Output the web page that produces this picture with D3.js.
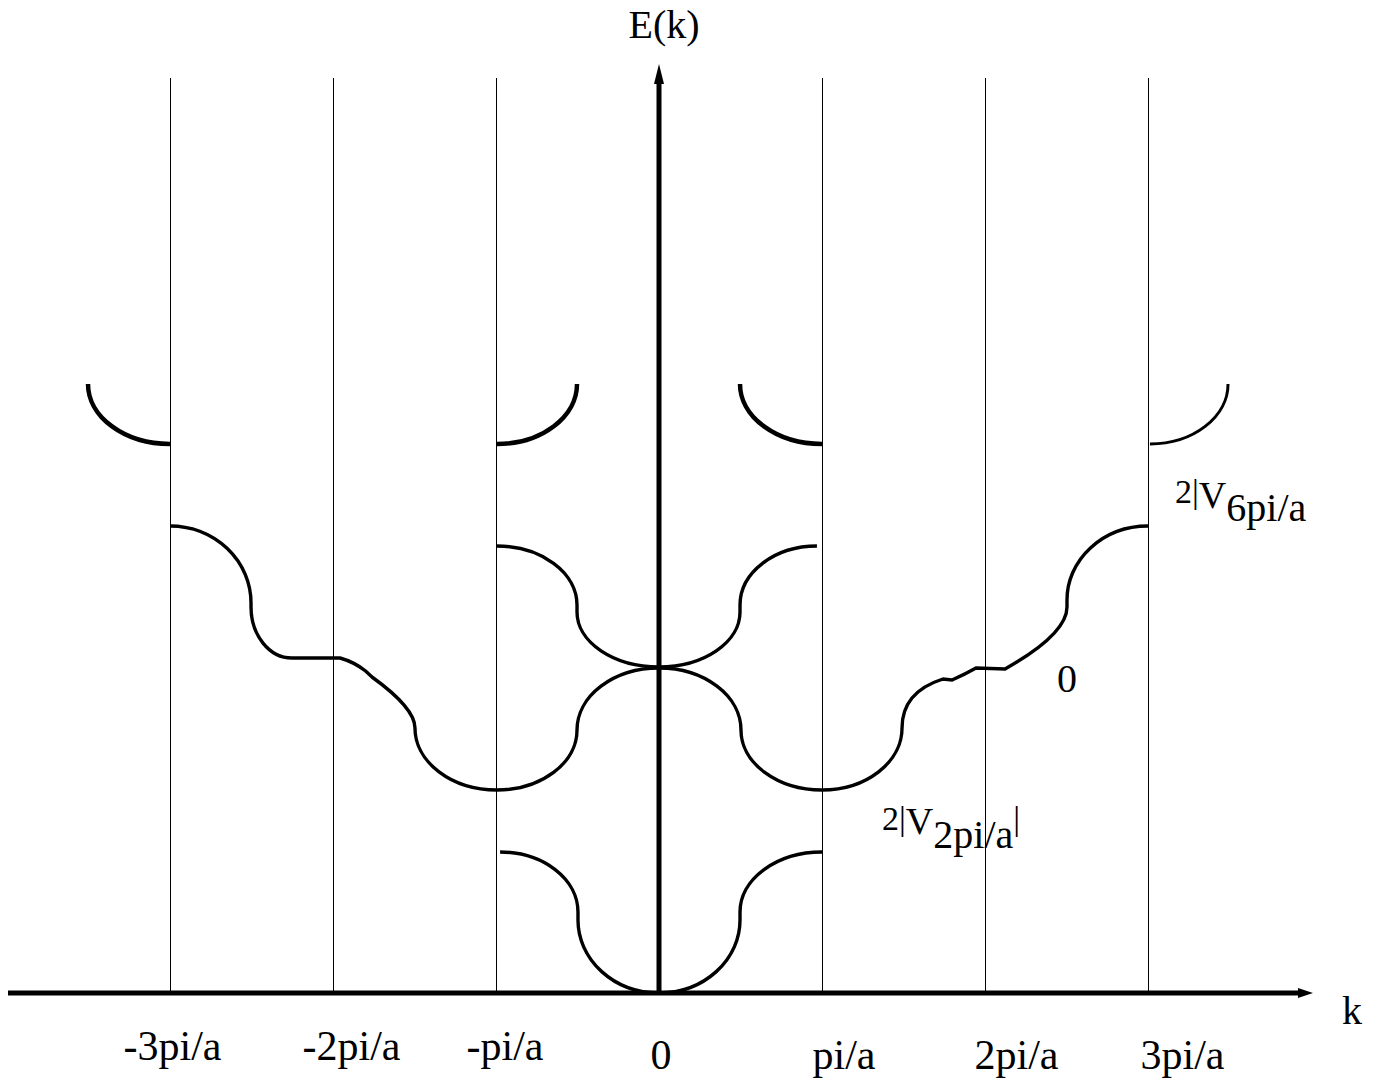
<!DOCTYPE html>
<html><head><meta charset="utf-8">
<script src="https://cdn.jsdelivr.net/npm/d3@7"></script>
<style>
body{margin:0;background:#fff}
svg{display:block}
text{font-family:"Liberation Serif","Times New Roman",serif;fill:#000}
</style>
</head><body>
<svg id="chart" width="1384" height="1082"></svg>
<script>
// ---------- data (k in units of pi/a, E in arbitrary energy units) ----------
const kTicks = [-3, -2, -1, 0, 1, 2, 3];
const kTickLabels = ["-3pi/a", "-2pi/a", "-pi/a", "0", "pi/a", "2pi/a", "3pi/a"];
const zoneBoundaries = [-3, -2, -1, 1, 2, 3];

// segment: [type, k, E] ; h = quarter arc leaving horizontally, v = leaving vertically,
// l = straight, q = quadratic with control [.., ck, cE]
const band1Start = [-0.975, 1.41];
const band1Segs = [
  ["h", -0.497, 0.81], ["l", -0.497, 0.73], ["v", 0, 0],
  ["h", 0.497, 0.73], ["l", 0.497, 0.81], ["v", 1.0, 1.41]
];

const band2Start = [-3.0, 4.67];
const band2Segs = [
  ["h", -2.503, 3.90], ["l", -2.503, 3.86], ["v", -2.252, 3.35],
  ["l", -1.957, 3.35], ["q", -1.80, 3.22, -1.87, 3.31], ["l", -1.761, 3.16],
  ["q", -1.497, 2.65, -1.497, 2.85], ["v", -0.994, 2.03],
  ["h", -0.503, 2.63], ["v", 0, 3.25], ["h", 0.503, 2.63], ["v", 1.0, 2.03],
  ["h", 1.491, 2.65], ["q", 1.742, 3.14, 1.491, 3.01], ["l", 1.798, 3.13],
  ["q", 1.945, 3.25, 1.88, 3.19], ["l", 2.123, 3.24],
  ["q", 2.503, 3.86, 2.503, 3.59], ["l", 2.503, 3.93], ["v", 3.0, 4.67]
];

const band3Start = [-0.994, 4.47];
const band3Segs = [
  ["h", -0.503, 3.88], ["l", -0.503, 3.81], ["v", 0, 3.26],
  ["h", 0.497, 3.81], ["l", 0.497, 3.88], ["v", 0.969, 4.47]
];

const band4Pieces = [
  { start: [-3.503, 6.09], segs: [["v", -3.0, 5.49]] },
  { start: [-0.994, 5.49], segs: [["h", -0.503, 6.09]] },
  { start: [0.497, 6.09], segs: [["v", 1.0, 5.49]] },
  { start: [3.012, 5.49], segs: [["h", 3.491, 6.09]] }
];

const axisLabelE = "E(k)";
const axisLabelK = "k";
const gapLabelHigh = ["2|", "V", "6pi/a"];
const gapLabelLow = ["2|", "V", "2pi/a", "|"];
const gapLabelZero = "0";

// ---------- layout ----------
const svg = d3.select("#chart");
const x = d3.scaleLinear().domain([-3, 3]).range([170, 1148]);
const y = d3.scaleLinear().domain([0, 9.28]).range([993, 65]);

function buildPath(start, segs) {
  let x0 = x(start[0]), y0 = y(start[1]);
  let d = `M${x0},${y0}`;
  for (const s of segs) {
    const x1 = x(s[1]), y1 = y(s[2]);
    if (s[0] === "l") d += `L${x1},${y1}`;
    else if (s[0] === "q") d += `Q${x(s[3])},${y(s[4])} ${x1},${y1}`;
    else {
      const cx = s[0] === "h" ? x0 : x1;
      const cy = s[0] === "h" ? y1 : y0;
      const ax = x0 - cx, ay = y0 - cy, bx = x1 - cx, by = y1 - cy;
      const sw = (ax * by - ay * bx) > 0 ? 1 : 0;
      d += `A${Math.abs(x1 - x0)},${Math.abs(y1 - y0)} 0 0 ${sw} ${x1},${y1}`;
    }
    x0 = x1; y0 = y1;
  }
  return d;
}

// zone boundary lines
svg.append("g").selectAll("line").data(zoneBoundaries).join("line")
  .attr("x1", d => Math.round(x(d)) + 0.5).attr("x2", d => Math.round(x(d)) + 0.5)
  .attr("y1", 78).attr("y2", y(0))
  .attr("stroke", "#000").attr("stroke-width", 1);

// bands
const bandG = svg.append("g").attr("fill", "none").attr("stroke", "#000");
bandG.append("path").attr("d", buildPath(band1Start, band1Segs)).attr("stroke-width", 3.4);
bandG.append("path").attr("d", buildPath(band2Start, band2Segs)).attr("stroke-width", 3.4);
bandG.append("path").attr("d", buildPath(band3Start, band3Segs)).attr("stroke-width", 3.4);
bandG.selectAll("path.top").data(band4Pieces).join("path").attr("class", "top")
  .attr("d", p => buildPath(p.start, p.segs))
  .attr("stroke-width", (p, i) => i === 3 ? 3 : 4.5);

// axes (arrows)
const axG = svg.append("g");
const x0px = x(0), yAxis = y(0);
axG.append("line").attr("x1", 8).attr("x2", 1300).attr("y1", yAxis).attr("y2", yAxis)
  .attr("stroke", "#000").attr("stroke-width", 5);
axG.append("path").attr("d", `M1298,${yAxis - 5}L1313,${yAxis}L1298,${yAxis + 5}Z`).attr("fill", "#000");
axG.append("line").attr("x1", x0px).attr("x2", x0px).attr("y1", yAxis + 2).attr("y2", 80)
  .attr("stroke", "#000").attr("stroke-width", 5);
axG.append("path").attr("d", `M${x0px - 5},84L${x0px},64L${x0px + 5},84Z`).attr("fill", "#000");

// tick labels via d3 axis
const labelDx = { "-3": -47, "-2": -31, "-1": -30, "0": -9, "1": -10, "2": -11, "3": -8 };
const xAxis = d3.axisBottom(x).tickValues(kTicks).tickSize(0)
  .tickFormat((d, i) => kTickLabels[i]);
const xg = svg.append("g").attr("transform", `translate(0,${yAxis})`).call(xAxis);
xg.select(".domain").remove();
xg.attr("font-family", null).attr("font-size", null);
xg.selectAll("text")
  .attr("font-size", 42).attr("fill", "#000")
  .attr("text-anchor", "start").attr("dy", null)
  .attr("x", d => labelDx[d])
  .attr("y", d => d < 0 ? 67 : 76);

// axis names
svg.append("text").attr("x", x0px + 5).attr("y", 38).attr("text-anchor", "middle")
  .attr("font-size", 40).text(axisLabelE);
svg.append("text").attr("x", 1352).attr("y", 1024).attr("text-anchor", "middle")
  .attr("font-size", 40).text(axisLabelK);

// gap annotations
const t1 = svg.append("text").attr("x", 1175).attr("y", 503);
t1.append("tspan").attr("font-size", 34).text(gapLabelHigh[0]);
t1.append("tspan").attr("font-size", 38).attr("dy", 5).text(gapLabelHigh[1]);
t1.append("tspan").attr("font-size", 40).attr("dy", 13).text(gapLabelHigh[2]);

const t2 = svg.append("text").attr("x", 882).attr("y", 830);
t2.append("tspan").attr("font-size", 34).text(gapLabelLow[0]);
t2.append("tspan").attr("font-size", 38).attr("dy", 4).text(gapLabelLow[1]);
t2.append("tspan").attr("font-size", 40).attr("dy", 14).text(gapLabelLow[2]);
t2.append("tspan").attr("font-size", 34).attr("dy", -18).text(gapLabelLow[3]);

svg.append("text").attr("x", 1067).attr("y", 692).attr("text-anchor", "middle")
  .attr("font-size", 40).text(gapLabelZero);
</script>
</body></html>
